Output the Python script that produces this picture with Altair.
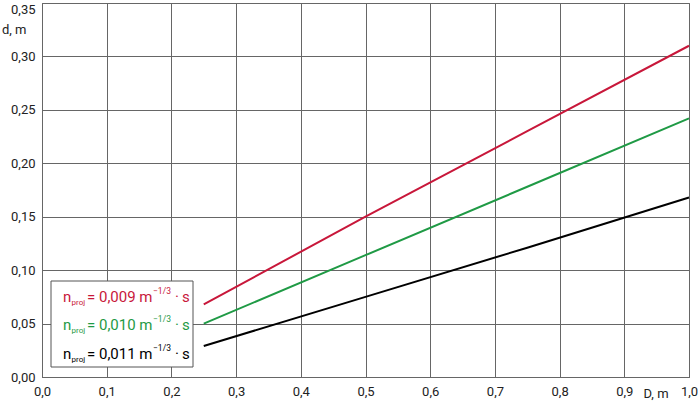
import altair as alt
import pandas as pd

D = [0.25, 0.5, 0.75, 1.0]
d_009 = [0.068, 0.150, 0.230, 0.310]
d_010 = [0.050, 0.114, 0.178, 0.242]
d_011 = [0.029, 0.075, 0.121, 0.168]
series_names = ["0,009", "0,010", "0,011"]
series_colors = ["#c8173a", "#1f9a45", "#000000"]
x_ticks = [0.0, 0.1, 0.2, 0.3, 0.4, 0.5, 0.6, 0.7, 0.8, 0.9, 1.0]
y_ticks = [0.0, 0.05, 0.10, 0.15, 0.20, 0.25, 0.30, 0.35]

rows = []
for name, vals in zip(series_names, [d_009, d_010, d_011]):
    for x, y in zip(D, vals):
        rows.append({"D": x, "d": y, "n": name})
df = pd.DataFrame(rows)

FONT = "Roboto"
TICKFONT = "Roboto"
W, H = 647, 374

lines = alt.Chart(df).mark_line(strokeWidth=2).encode(
    x=alt.X("D:Q", scale=alt.Scale(domain=[0, 1.0], nice=False),
            axis=alt.Axis(values=x_ticks, title=None, grid=True, ticks=False,
                          labelExpr="replace(format(datum.value, '.1f'), '.', ',')",
                          labelPadding=8, labelFontSize=13, labelFont=TICKFONT,
                          labelColor="#222222", domainColor="#666666",
                          gridColor="#666666", gridOpacity=1, labelFlush=False)),
    y=alt.Y("d:Q", scale=alt.Scale(domain=[0, 0.35], nice=False),
            axis=alt.Axis(values=y_ticks, title=None, grid=True, ticks=False,
                          labelExpr="replace(format(datum.value, '.2f'), '.', ',')",
                          labelPadding=7, labelFontSize=13, labelFont=TICKFONT,
                          labelColor="#222222", domainColor="#666666",
                          gridColor="#666666", gridOpacity=1,
                          labelBaseline={"condition": {"test": "datum.value >= 0.34", "value": "top"}, "value": "middle"})),
    color=alt.Color("n:N", scale=alt.Scale(domain=series_names, range=series_colors), legend=None),
)

layers = [lines]

# axis unit labels
layers.append(alt.Chart().mark_text(font=TICKFONT, fontSize=13, align="left", baseline="middle", color="#222222").encode(
    x=alt.value(-40), y=alt.value(27), text=alt.value("d, m")))
layers.append(alt.Chart().mark_text(font=TICKFONT, fontSize=13, align="center", baseline="top", color="#222222").encode(
    x=alt.value(614), y=alt.value(385), text=alt.value("D, m")))

# legend box
layers.append(alt.Chart().mark_rect(fill="white", stroke="#555555", strokeWidth=1).encode(
    x=alt.value(9), x2=alt.value(151), y=alt.value(278), y2=alt.value(364)))

row_base = [299, 327, 356]
for name, color, yb in zip(series_names, series_colors, row_base):
    def t(txt, x, y, size, align="left"):
        return alt.Chart().mark_text(font=FONT, fontSize=size, align=align, baseline="alphabetic", color=color).encode(
            x=alt.value(x), y=alt.value(y), text=alt.value(txt))
    layers.append(t("n", 21, yb, 15))
    layers.append(t("proj", 29.5, yb + 3, 8))
    layers.append(t("= " + name + " m", 45, yb, 15))
    layers.append(t("\u22121/3", 111, yb - 8, 8.5))
    layers.append(t("\u00b7\u2009s", 133, yb, 15))

chart = alt.layer(*layers).properties(
    width=W, height=H,
    autosize=alt.AutoSizeParams(type="none"),
    padding={"left": 42, "top": 3, "right": 11, "bottom": 29},
    background="white",
).configure_view(stroke="#666666", strokeWidth=1)

chart.save("out.html", embed_options={"renderer": "svg", "actions": False})
